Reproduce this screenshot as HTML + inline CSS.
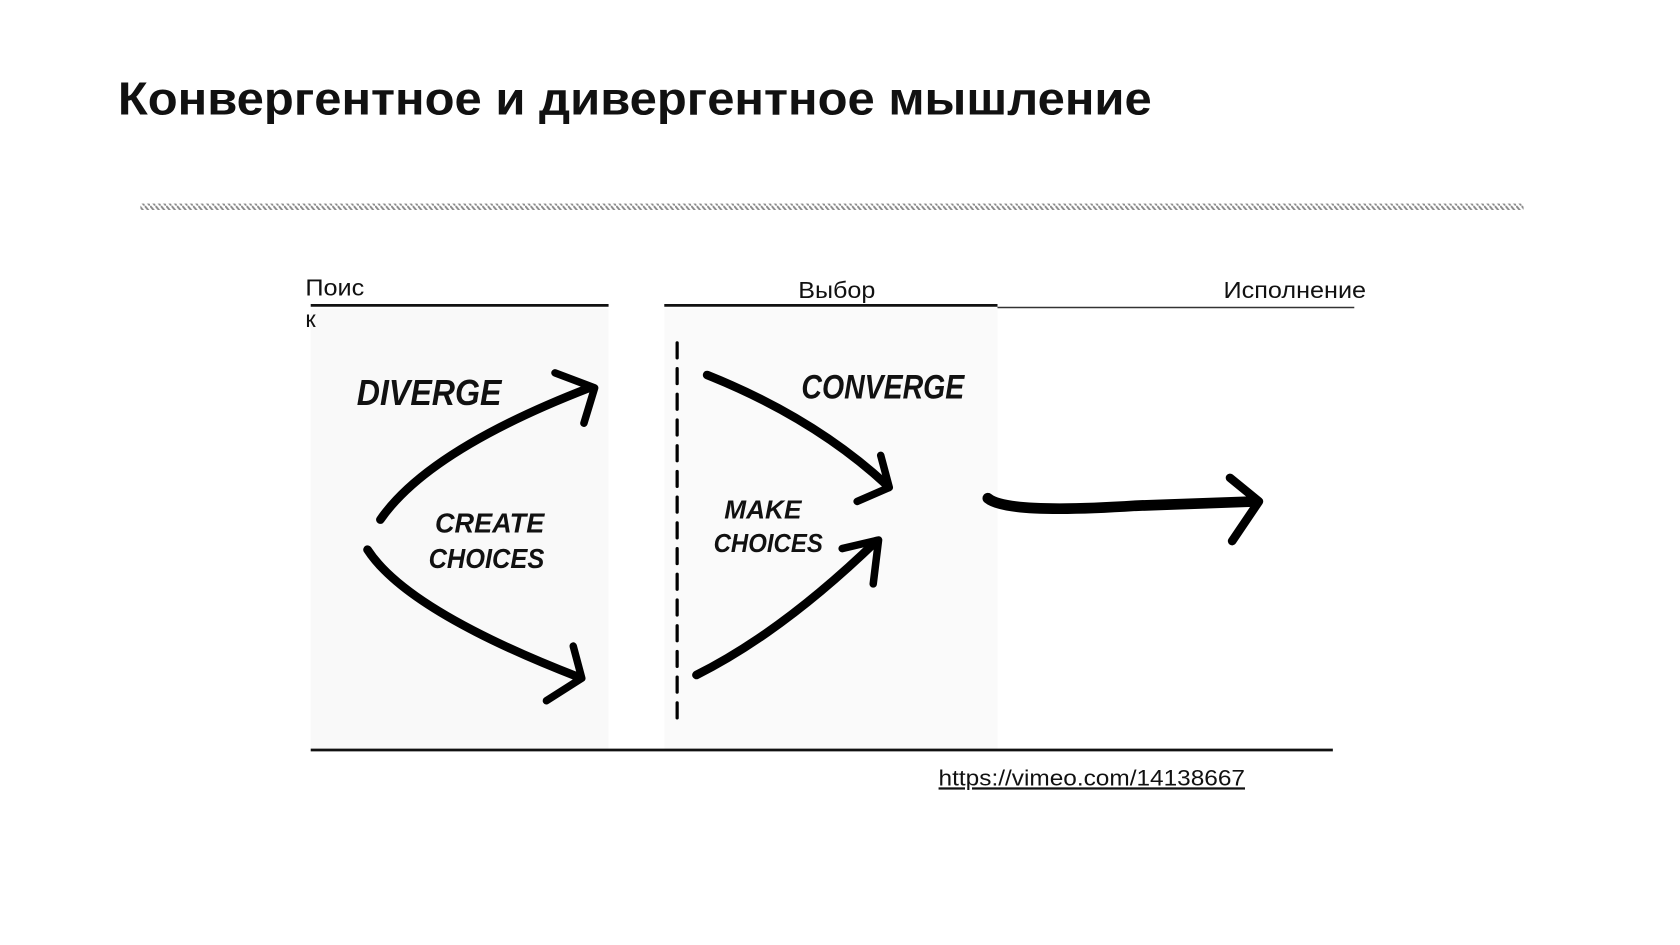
<!DOCTYPE html>
<html><head><meta charset="utf-8"><style>
html,body{margin:0;padding:0;background:#fff;width:1680px;height:945px;overflow:hidden}
svg{display:block}
</style></head><body>
<svg width="1680" height="945" viewBox="0 0 1568 882" xmlns="http://www.w3.org/2000/svg">
<defs>
<pattern id="hatch" width="5" height="6" patternUnits="userSpaceOnUse">
<line x1="0" y1="0" x2="5" y2="6" stroke="#888" stroke-width="1.8"/>
</pattern>
</defs>
<text x="110" y="107" font-family="Liberation Sans, sans-serif" font-weight="bold" font-size="43" fill="#111" textLength="965" lengthAdjust="spacingAndGlyphs">Конвергентное и дивергентное мышление</text>
<rect x="131" y="190" width="1291" height="6" fill="url(#hatch)"/>
<rect x="290" y="288" width="278" height="412" fill="#f9f9f9"/>
<rect x="620" y="288" width="311" height="412" fill="#fafafa"/>
<g font-family="Liberation Sans, sans-serif" font-size="22" fill="#111">
<text x="285" y="276" textLength="55" lengthAdjust="spacingAndGlyphs">Поис</text>
<text x="285" y="305">к</text>
<text x="745" y="278" textLength="72" lengthAdjust="spacingAndGlyphs">Выбор</text>
<text x="1142" y="278" textLength="133" lengthAdjust="spacingAndGlyphs">Исполнение</text>
</g>
<line x1="290" y1="285" x2="568" y2="285" stroke="#111" stroke-width="2.5"/>
<line x1="620" y1="285" x2="931" y2="285" stroke="#111" stroke-width="2.5"/>
<line x1="931" y1="287" x2="1264" y2="287" stroke="#333" stroke-width="1.5"/>
<line x1="290" y1="700" x2="1244" y2="700" stroke="#111" stroke-width="2.5"/>
<text x="876" y="733" font-family="Liberation Sans, sans-serif" font-size="21" fill="#111" text-decoration="underline" textLength="286" lengthAdjust="spacingAndGlyphs">https://vimeo.com/14138667</text>
<g fill="none" stroke="#000" stroke-linecap="round" stroke-linejoin="round">
<path d="M355 485 Q400 420 550 362" stroke-width="8"/>
<path d="M518 348 L555 362 L545 395" stroke-width="7"/>
<path d="M343 513 Q380 570 540 632" stroke-width="8"/>
<path d="M510 654 L543 633 L535 603" stroke-width="7"/>
<path d="M632 320 L632 670" stroke-width="3" stroke-dasharray="14 10"/>
<path d="M660 350 Q760 390 828 453" stroke-width="8"/>
<path d="M800 468 L830 455 L822 425" stroke-width="7"/>
<path d="M650 630 Q730 590 818 505" stroke-width="8"/>
<path d="M786 512 L820 504 L815 545" stroke-width="7"/>
<path d="M922 465 Q940 480 1060 472 L1172 468" stroke-width="10"/>
<path d="M1148 446 L1175 468 L1150 505" stroke-width="8"/>
</g>
<g font-family="Liberation Sans, sans-serif" font-weight="bold" fill="#111" font-style="italic">
<text x="333" y="378" font-size="34" textLength="135" lengthAdjust="spacingAndGlyphs">DIVERGE</text>
<text x="748" y="372" font-size="32" textLength="152" lengthAdjust="spacingAndGlyphs">CONVERGE</text>
<text x="406" y="497" font-size="26" textLength="102" lengthAdjust="spacingAndGlyphs">CREATE</text>
<text x="400" y="530" font-size="26" textLength="108" lengthAdjust="spacingAndGlyphs">CHOICES</text>
<text x="676" y="484" font-size="24" textLength="72" lengthAdjust="spacingAndGlyphs">MAKE</text>
<text x="666" y="515" font-size="24" textLength="102" lengthAdjust="spacingAndGlyphs">CHOICES</text>
</g>
</svg>
</body></html>
